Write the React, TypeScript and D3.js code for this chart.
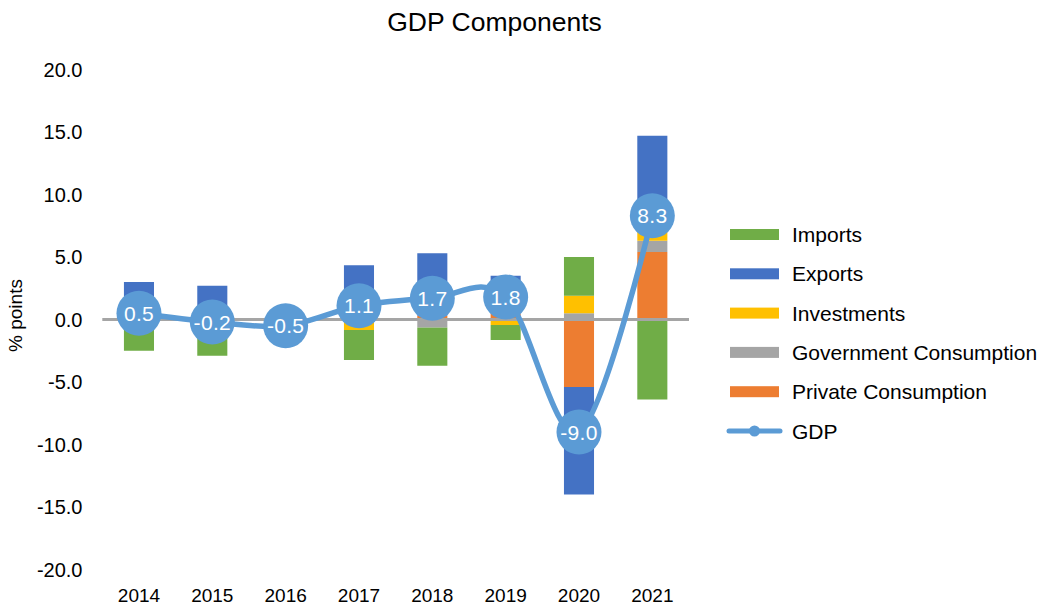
import React from "react";
import * as d3 from "d3";

const years = ["2014", "2015", "2016", "2017", "2018", "2019", "2020", "2021"];
const privateConsumption = [0.3, 0.3, 0.2, 0.8, 0.3, 0.5, -5.4, 5.4];
const governmentConsumption = [0.0, 0.0, 0.0, 0.0, -0.65, 0.0, 0.5, 0.9];
const investments = [0.0, 0.0, 0.0, -0.84, 0.0, -0.44, 1.4, 0.8];
const exportsSeries = [2.7, 2.4, 0.5, 3.54, 5.0, 3.0, -8.6, 7.6];
const importsSeries = [-2.5, -2.9, -1.2, -2.4, -3.05, -1.2, 3.1, -6.4];
const gdp = [0.5, -0.2, -0.5, 1.1, 1.7, 1.8, -9.0, 8.3];
const yTicks = [20, 15, 10, 5, 0, -5, -10, -15, -20];

const seriesNames = ["Private Consumption", "Government Consumption", "Investments", "Exports", "Imports"];
const seriesData = [privateConsumption, governmentConsumption, investments, exportsSeries, importsSeries];
const seriesColors = ["#ED7D31", "#A5A5A5", "#FFC000", "#4472C4", "#70AD47"];
const lineColor = "#5B9BD5";

const W = 1053;
const H = 605;
const FONT = "'Liberation Sans', Arial, Helvetica, sans-serif";

const fmt = (v: number) => v.toFixed(1);

export default function App() {
  const x = d3.scaleBand<string>().domain(years).range([102.3, 689]).paddingInner(0.59).paddingOuter(0.295);
  const y = d3.scaleLinear().domain([-20, 20]).range([569.5, 69.5]);

  const rects: { x: number; y: number; w: number; h: number; c: string; key: string }[] = [];
  years.forEach((yr, i) => {
    let pos = 0;
    let neg = 0;
    seriesData.forEach((s, k) => {
      const v = s[i];
      if (v === 0) return;
      let y0, y1;
      if (v > 0) {
        y0 = pos;
        y1 = pos + v;
        pos = y1;
      } else {
        y0 = neg;
        y1 = neg + v;
        neg = y1;
      }
      const top = y(Math.max(y0, y1));
      const bot = y(Math.min(y0, y1));
      rects.push({ x: x(yr)!, y: top, w: x.bandwidth(), h: bot - top, c: seriesColors[k], key: `${yr}-${k}` });
    });
  });

  const cx = (yr: string) => x(yr)! + x.bandwidth() / 2;
  const pts: [number, number][] = years.map((yr, i) => [cx(yr), y(gdp[i])]);
  const line = d3.line().curve(d3.curveCardinal.tension(0))(pts) || "";

  const legendItems = [4, 3, 2, 1, 0].map((k) => ({ name: seriesNames[k], color: seriesColors[k] }));
  const legY0 = 234.5;
  const legStep = 39.3;

  return (
    <svg width={W} height={H} style={{ position: "absolute", left: 0, top: 0, background: "#fff" }} fontFamily={FONT}>
      <rect x={0} y={0} width={W} height={H} fill="#fff" />
      <text x={494.5} y={31} textAnchor="middle" fontSize={26.5} fill="#000">GDP Components</text>

      {yTicks.map((t) => (
        <text key={t} x={82.5} y={y(t)} dy="0.36em" textAnchor="end" fontSize={20} fill="#000">
          {fmt(t)}
        </text>
      ))}
      <text transform={`translate(22,${y(0) - 4}) rotate(-90)`} textAnchor="middle" fontSize={19} fill="#000">% points</text>

      {years.map((yr) => (
        <text key={yr} x={cx(yr)} y={601.5} textAnchor="middle" fontSize={19} fill="#000">{yr}</text>
      ))}

      {rects.map((r) => (
        <rect key={r.key} x={r.x} y={r.y} width={r.w} height={r.h} fill={r.c} />
      ))}

      <line x1={102.3} x2={689} y1={y(0)} y2={y(0)} stroke="#A5A5A5" strokeWidth={2.8} />

      <path d={line} fill="none" stroke={lineColor} strokeWidth={5.5} strokeLinecap="round" />
      {pts.map((p, i) => (
        <g key={years[i]}>
          <circle cx={p[0]} cy={p[1]} r={22.5} fill={lineColor} />
          <text x={p[0]} y={p[1]} dy="0.36em" textAnchor="middle" fontSize={21} letterSpacing={0.3} fill="#fff">
            {fmt(gdp[i])}
          </text>
        </g>
      ))}

      {legendItems.map((it, i) => (
        <g key={it.name}>
          <rect x={730} y={legY0 + i * legStep - 5.5} width={49} height={11} fill={it.color} />
          <text x={792} y={legY0 + i * legStep} dy="0.36em" fontSize={21} fill="#000">{it.name}</text>
        </g>
      ))}
      <g>
        <line x1={729} x2={780} y1={legY0 + 5 * legStep} y2={legY0 + 5 * legStep} stroke={lineColor} strokeWidth={5} strokeLinecap="round" />
        <circle cx={754.5} cy={legY0 + 5 * legStep} r={5.5} fill={lineColor} />
        <text x={792} y={legY0 + 5 * legStep} dy="0.36em" fontSize={21} fill="#000">GDP</text>
      </g>
    </svg>
  );
}
